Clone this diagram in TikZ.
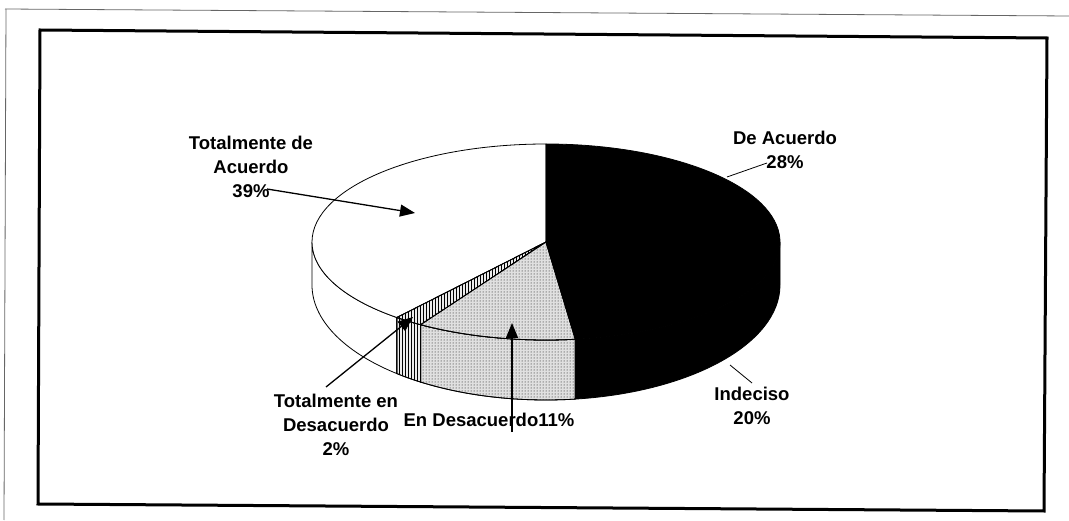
\documentclass[tikz,border=0pt]{standalone}
\usepackage{fontspec}
\setmainfont{Liberation Sans}
\usetikzlibrary{arrows.meta,patterns}

% one side wall of the pie, from angle #2 to angle #3
\newcommand{\sideface}[3]{%
  \path[#1] ([shift={(546,278)}]#2:234 and 98) arc[start angle=#2,end angle=#3,x radius=234,y radius=98]
    -- ([shift={(546,235)}]#3:234 and 115) arc[start angle=#3,end angle=#2,x radius=234,y radius=115] -- cycle;}
% one slice of the top face
\newcommand{\topface}[3]{%
  \path[#1] (546,278) -- ([shift={(546,278)}]#2:234 and 98) arc[start angle=#2,end angle=#3,x radius=234,y radius=98] -- cycle;}

\begin{document}
\begin{tikzpicture}[x=1pt,y=1pt,
  lbl/.style={font=\bfseries\fontsize{18.5}{24}\selectfont,align=center,inner sep=0pt},
  ptr/.style={line width=1.3pt,-{Triangle[length=15pt,width=12pt]}},
  leader/.style={line width=0.8pt}]
\useasboundingbox (0,0) rectangle (1069,520);
% ------------------------------------------------ frames
\draw [line width=0.8pt,color=black!60] (5,511) -- (1069,504);
\draw [line width=0.8pt,color=black!60] (6,511) -- (4,0);
\draw [line width=3pt,color=black] (40,490) -- (1047,482) -- (1044,9) -- (38,16) -- cycle;

% ------------------------------------------------ side walls
\sideface{fill=white,draw=black,line width=0.8pt}{180}{230.4}
\sideface{fill=black!8,draw=black,line width=0.8pt}{230.4}{237.6}
\sideface{pattern=vertical lines,draw=black,line width=0.8pt}{230.4}{237.6}
\sideface{fill=black!12,draw=black,line width=0.8pt}{237.6}{277.2}
\sideface{pattern=dots,draw=black,line width=0.8pt}{237.6}{277.2}
\sideface{fill=black,draw=black,line width=0.8pt}{277.2}{360}

% ------------------------------------------------ top face
\topface{fill=white,draw=black,line width=0.8pt}{90}{230.4}
\topface{fill=black!8,draw=black,line width=0.8pt}{230.4}{237.6}
\topface{pattern=vertical lines,draw=black,line width=0.8pt}{230.4}{237.6}
\topface{fill=black!12,draw=black,line width=0.8pt}{237.6}{277.2}
\topface{pattern=dots,draw=black,line width=0.8pt}{237.6}{277.2}
\topface{fill=black,draw=black,line width=0.8pt}{277.2}{450}

% ------------------------------------------------ labels
\node[lbl] (tda) at (251,353) {Totalmente de\\Acuerdo\\39\%};
\node[lbl] (dea) at (785,370) {De Acuerdo\\28\%};
\node[lbl] (ind) at (752,114) {Indeciso\\20\%};
\node[lbl] (ted) at (336,95)  {Totalmente en\\Desacuerdo\\2\%};
\node[lbl] (end) at (489,100) {En Desacuerdo11\%};

% ------------------------------------------------ pointers
\coordinate (tdaFrom) at (267,331);
\coordinate (tdaTo)   at (415,307);
\coordinate (deaFrom) at (767,357);
\coordinate (deaTo)   at (727,343);
\coordinate (indFrom) at (752,137);
\coordinate (indTo)   at (730,155);
\coordinate (tedFrom) at (326,133);
\coordinate (tedTo)   at (413,203);
\coordinate (endFrom) at (512,88);
\coordinate (endTo)   at (512,197);

\draw [ptr] (tdaFrom) -- (tdaTo);
\draw [ptr] (tedFrom) -- (tedTo);
\draw [ptr] (endFrom) -- (endTo);
\draw [leader] (deaFrom) -- (deaTo);
\draw [leader] (indFrom) -- (indTo);

\end{tikzpicture}
\end{document}
